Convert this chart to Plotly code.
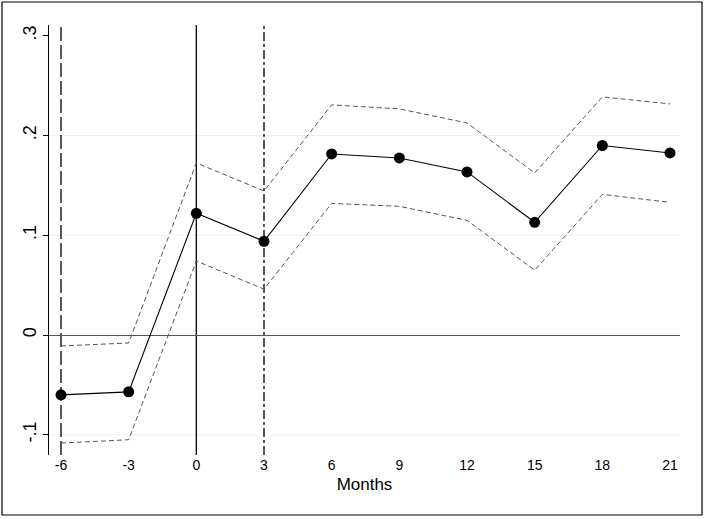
import plotly.graph_objects as go

months = [-6, -3, 0, 3, 6, 9, 12, 15, 18, 21]
month_labels = ["-6", "-3", "0", "3", "6", "9", "12", "15", "18", "21"]
estimate = [-0.060, -0.057, 0.122, 0.094, 0.1815, 0.1775, 0.1635, 0.113, 0.190, 0.1825]
upper_ci = [-0.011, -0.008, 0.1725, 0.1444, 0.2307, 0.2267, 0.2126, 0.1625, 0.2387, 0.2317]
lower_ci = [-0.1083, -0.105, 0.0742, 0.046, 0.132, 0.129, 0.115, 0.065, 0.141, 0.133]
y_tickvals = [-0.1, 0, 0.1, 0.2, 0.3]
y_ticktext = ["-.1", "0", ".1", ".2", ".3"]
grid_vals = [-0.1, 0.1, 0.2]
event_months = [-6, 0, 3]
event_styles = ["14px,4px", "solid", "dashdot"]

FONT = "Liberation Sans, Arial, Helvetica, sans-serif"

fig = go.Figure()

for g in grid_vals:
    fig.add_hline(y=g, line=dict(color="#efefef", width=1), layer="below")

for m, d in zip(event_months, event_styles):
    fig.add_vline(x=m, line=dict(color="#111111", width=1.4, dash=d), layer="below")

fig.add_trace(go.Scatter(x=months, y=upper_ci, mode="lines",
                         line=dict(color="#555555", width=1, dash="5px,3px"),
                         showlegend=False, hoverinfo="skip"))
fig.add_trace(go.Scatter(x=months, y=lower_ci, mode="lines",
                         line=dict(color="#555555", width=1, dash="5px,3px"),
                         showlegend=False, hoverinfo="skip"))
fig.add_trace(go.Scatter(x=months, y=estimate, mode="lines+markers",
                         line=dict(color="#000000", width=1.1),
                         marker=dict(color="#000000", size=11),
                         showlegend=False))

# outer border
fig.add_shape(type="rect", xref="paper", yref="paper",
              x0=-0.0745, x1=1.0349, y0=-0.1395, y1=1.0535,
              line=dict(color="#000000", width=1.2), fillcolor="rgba(0,0,0,0)")

fig.update_layout(
    width=704, height=519,
    margin=dict(l=49, r=24, t=25, b=64),
    paper_bgcolor="white", plot_bgcolor="white",
    font=dict(family=FONT, color="#000000"),
    xaxis=dict(range=[-6.532, 21.443], tickvals=months, ticktext=month_labels,
               showline=False, showgrid=False, zeroline=False,
               ticks="", tickfont=dict(size=14),
               title=dict(text="Months", font=dict(size=17), standoff=6)),
    yaxis=dict(range=[-0.1203, 0.3108], tickvals=y_tickvals, ticktext=y_ticktext,
               tickangle=-90, tickfont=dict(size=18),
               showline=True, linecolor="#000000", linewidth=1.2,
               ticks="outside", ticklen=5, tickcolor="#000000",
               showgrid=False,
               zeroline=True, zerolinecolor="#555555", zerolinewidth=1),
)

fig.write_html("out.html", config={"displayModeBar": False},
               post_script="document.body.style.margin='0px';")
